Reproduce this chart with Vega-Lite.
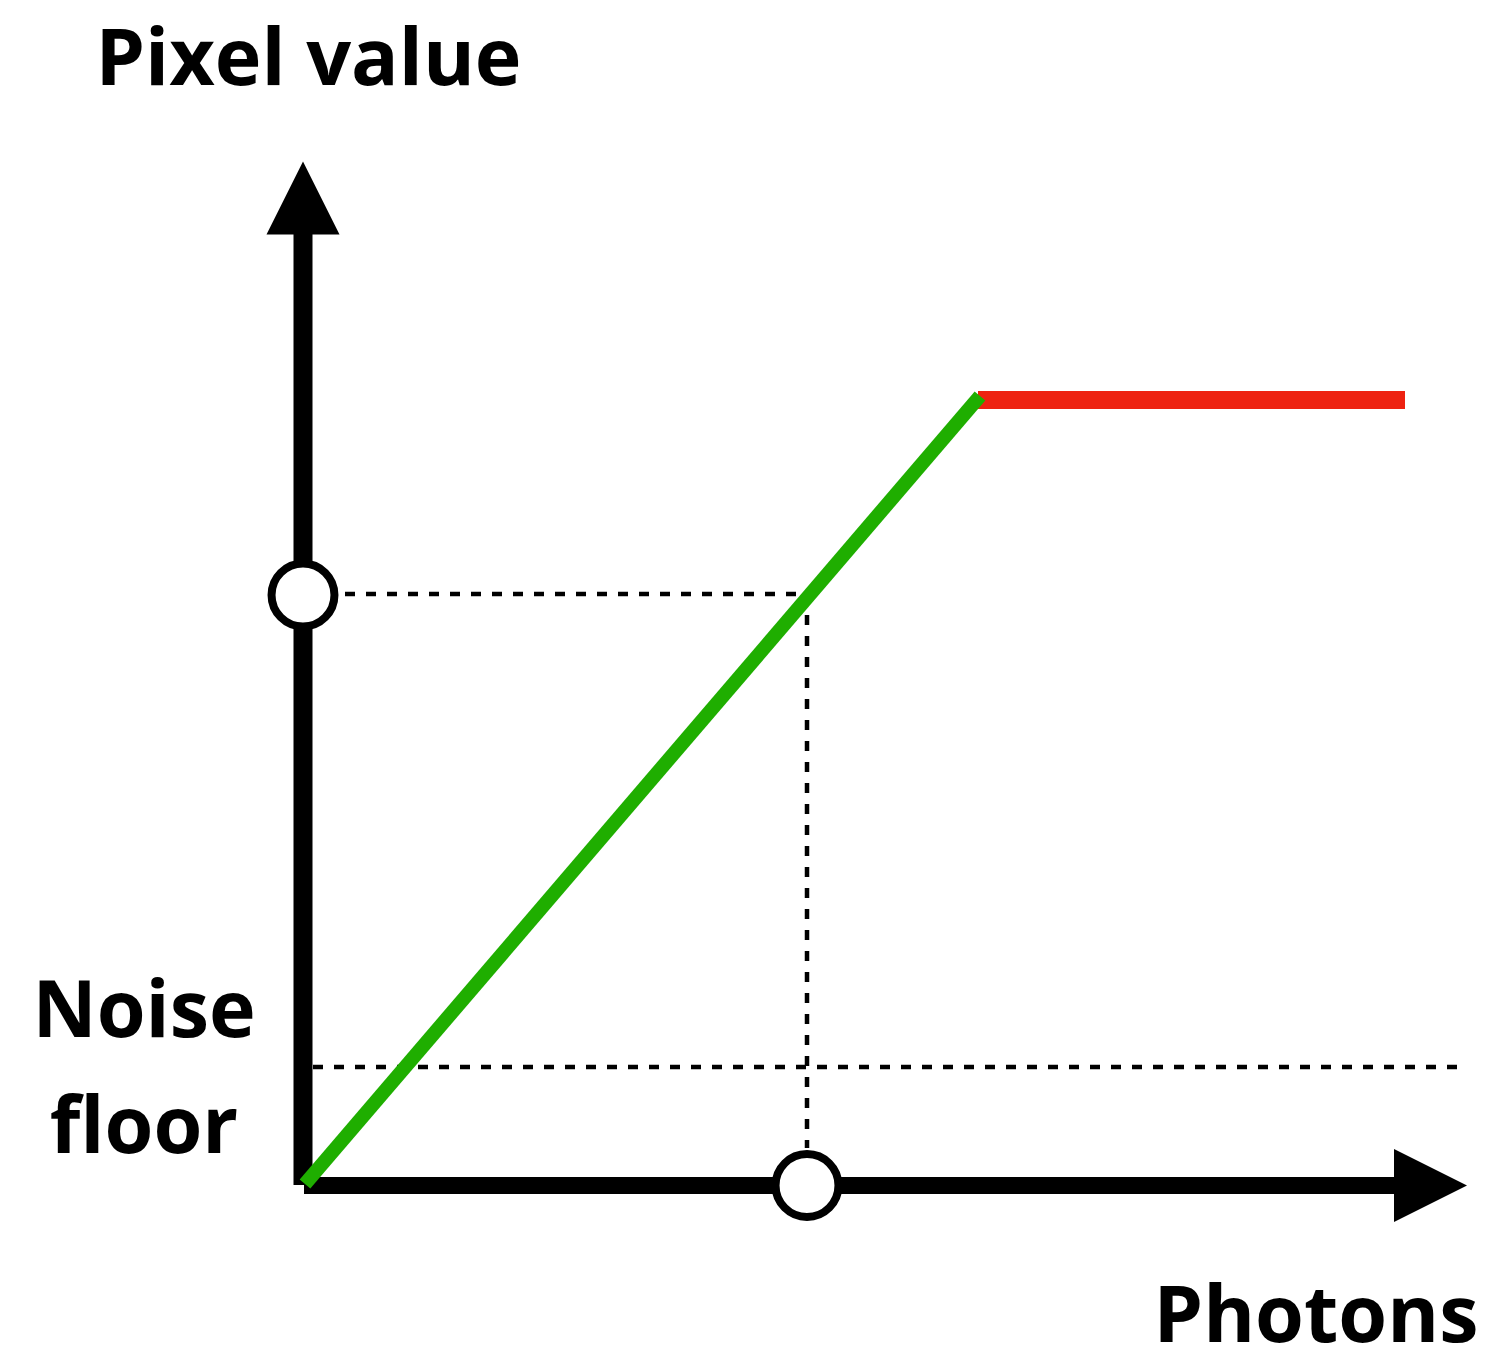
{
  "$schema": "https://vega.github.io/schema/vega-lite/v6.json",
  "autosize": {"type": "none"},
  "width": 1486,
  "height": 1346,
  "padding": 0,
  "background": "white",
  "config": {"view": {"stroke": null}},
  "datasets": {
    "dashed": [
      {"x": 0.1, "y": 1.18, "x2": 11.65, "y2": 1.18},
      {"x": 0.42, "y": 5.91, "x2": 5.03, "y2": 5.91},
      {"x": 5.04, "y": 5.91, "x2": 5.04, "y2": 0.37}
    ],
    "yaxis": [{"x": 0, "y": 0, "x2": 0, "y2": 9.51}],
    "xaxis": [{"x": 0.01, "y": -0.005, "x2": 10.91, "y2": -0.005}],
    "arrowUp": [{"x": 0, "y": 9.87}],
    "arrowRight": [{"x": 11.275, "y": -0.005}],
    "saturated": [{"x": 6.75, "y": 7.85, "x2": 11.02, "y2": 7.85}],
    "linear": [{"x": 0.02, "y": 0.01, "x2": 6.77, "y2": 7.89}],
    "markers": [{"x": 0, "y": 5.9}, {"x": 5.04, "y": -0.005}],
    "labels": [
      {"x": 0.055, "y": 11.0, "label": "Pixel value"},
      {"x": -1.59, "y": 1.48, "label": "Noise"},
      {"x": -1.59, "y": 0.32, "label": "floor"},
      {"x": 10.13, "y": -1.57, "label": "Photons"}
    ]
  },
  "encoding": {
    "x": {"field": "x", "type": "quantitative", "axis": null,
          "scale": {"domain": [-3.03, 11.83], "nice": false, "zero": false}},
    "y": {"field": "y", "type": "quantitative", "axis": null,
          "scale": {"domain": [-1.61, 11.85], "nice": false, "zero": false}}
  },
  "layer": [
    {
      "data": {"name": "dashed"},
      "mark": {"type": "rule", "color": "black", "strokeWidth": 4.5, "strokeDash": [10, 11]},
      "encoding": {"x2": {"field": "x2"}, "y2": {"field": "y2"}}
    },
    {
      "data": {"name": "yaxis"},
      "mark": {"type": "rule", "color": "black", "strokeWidth": 19},
      "encoding": {"x2": {"field": "x2"}, "y2": {"field": "y2"}}
    },
    {
      "data": {"name": "xaxis"},
      "mark": {"type": "rule", "color": "black", "strokeWidth": 17},
      "encoding": {"x2": {"field": "x2"}, "y2": {"field": "y2"}}
    },
    {
      "data": {"name": "arrowUp"},
      "mark": {"type": "point", "shape": "M0,-1L1,1L-1,1Z", "filled": true, "color": "black", "opacity": 1, "size": 5329, "strokeWidth": 0}
    },
    {
      "data": {"name": "arrowRight"},
      "mark": {"type": "point", "shape": "M1,0L-1,1L-1,-1Z", "filled": true, "color": "black", "opacity": 1, "size": 5329, "strokeWidth": 0}
    },
    {
      "data": {"name": "saturated"},
      "mark": {"type": "rule", "color": "#ee2211", "strokeWidth": 18},
      "encoding": {"x2": {"field": "x2"}, "y2": {"field": "y2"}}
    },
    {
      "data": {"name": "linear"},
      "mark": {"type": "rule", "color": "#1fae00", "strokeWidth": 14},
      "encoding": {"x2": {"field": "x2"}, "y2": {"field": "y2"}}
    },
    {
      "data": {"name": "markers"},
      "mark": {"type": "point", "shape": "circle", "filled": false, "fill": "white", "fillOpacity": 1, "stroke": "black", "strokeWidth": 8, "opacity": 1, "size": 3959}
    },
    {
      "data": {"name": "labels"},
      "mark": {"type": "text", "font": "Open Sans", "fontWeight": "bold", "fontSize": 79, "align": "center", "baseline": "alphabetic", "color": "black"},
      "encoding": {"text": {"field": "label"}}
    }
  ]
}
